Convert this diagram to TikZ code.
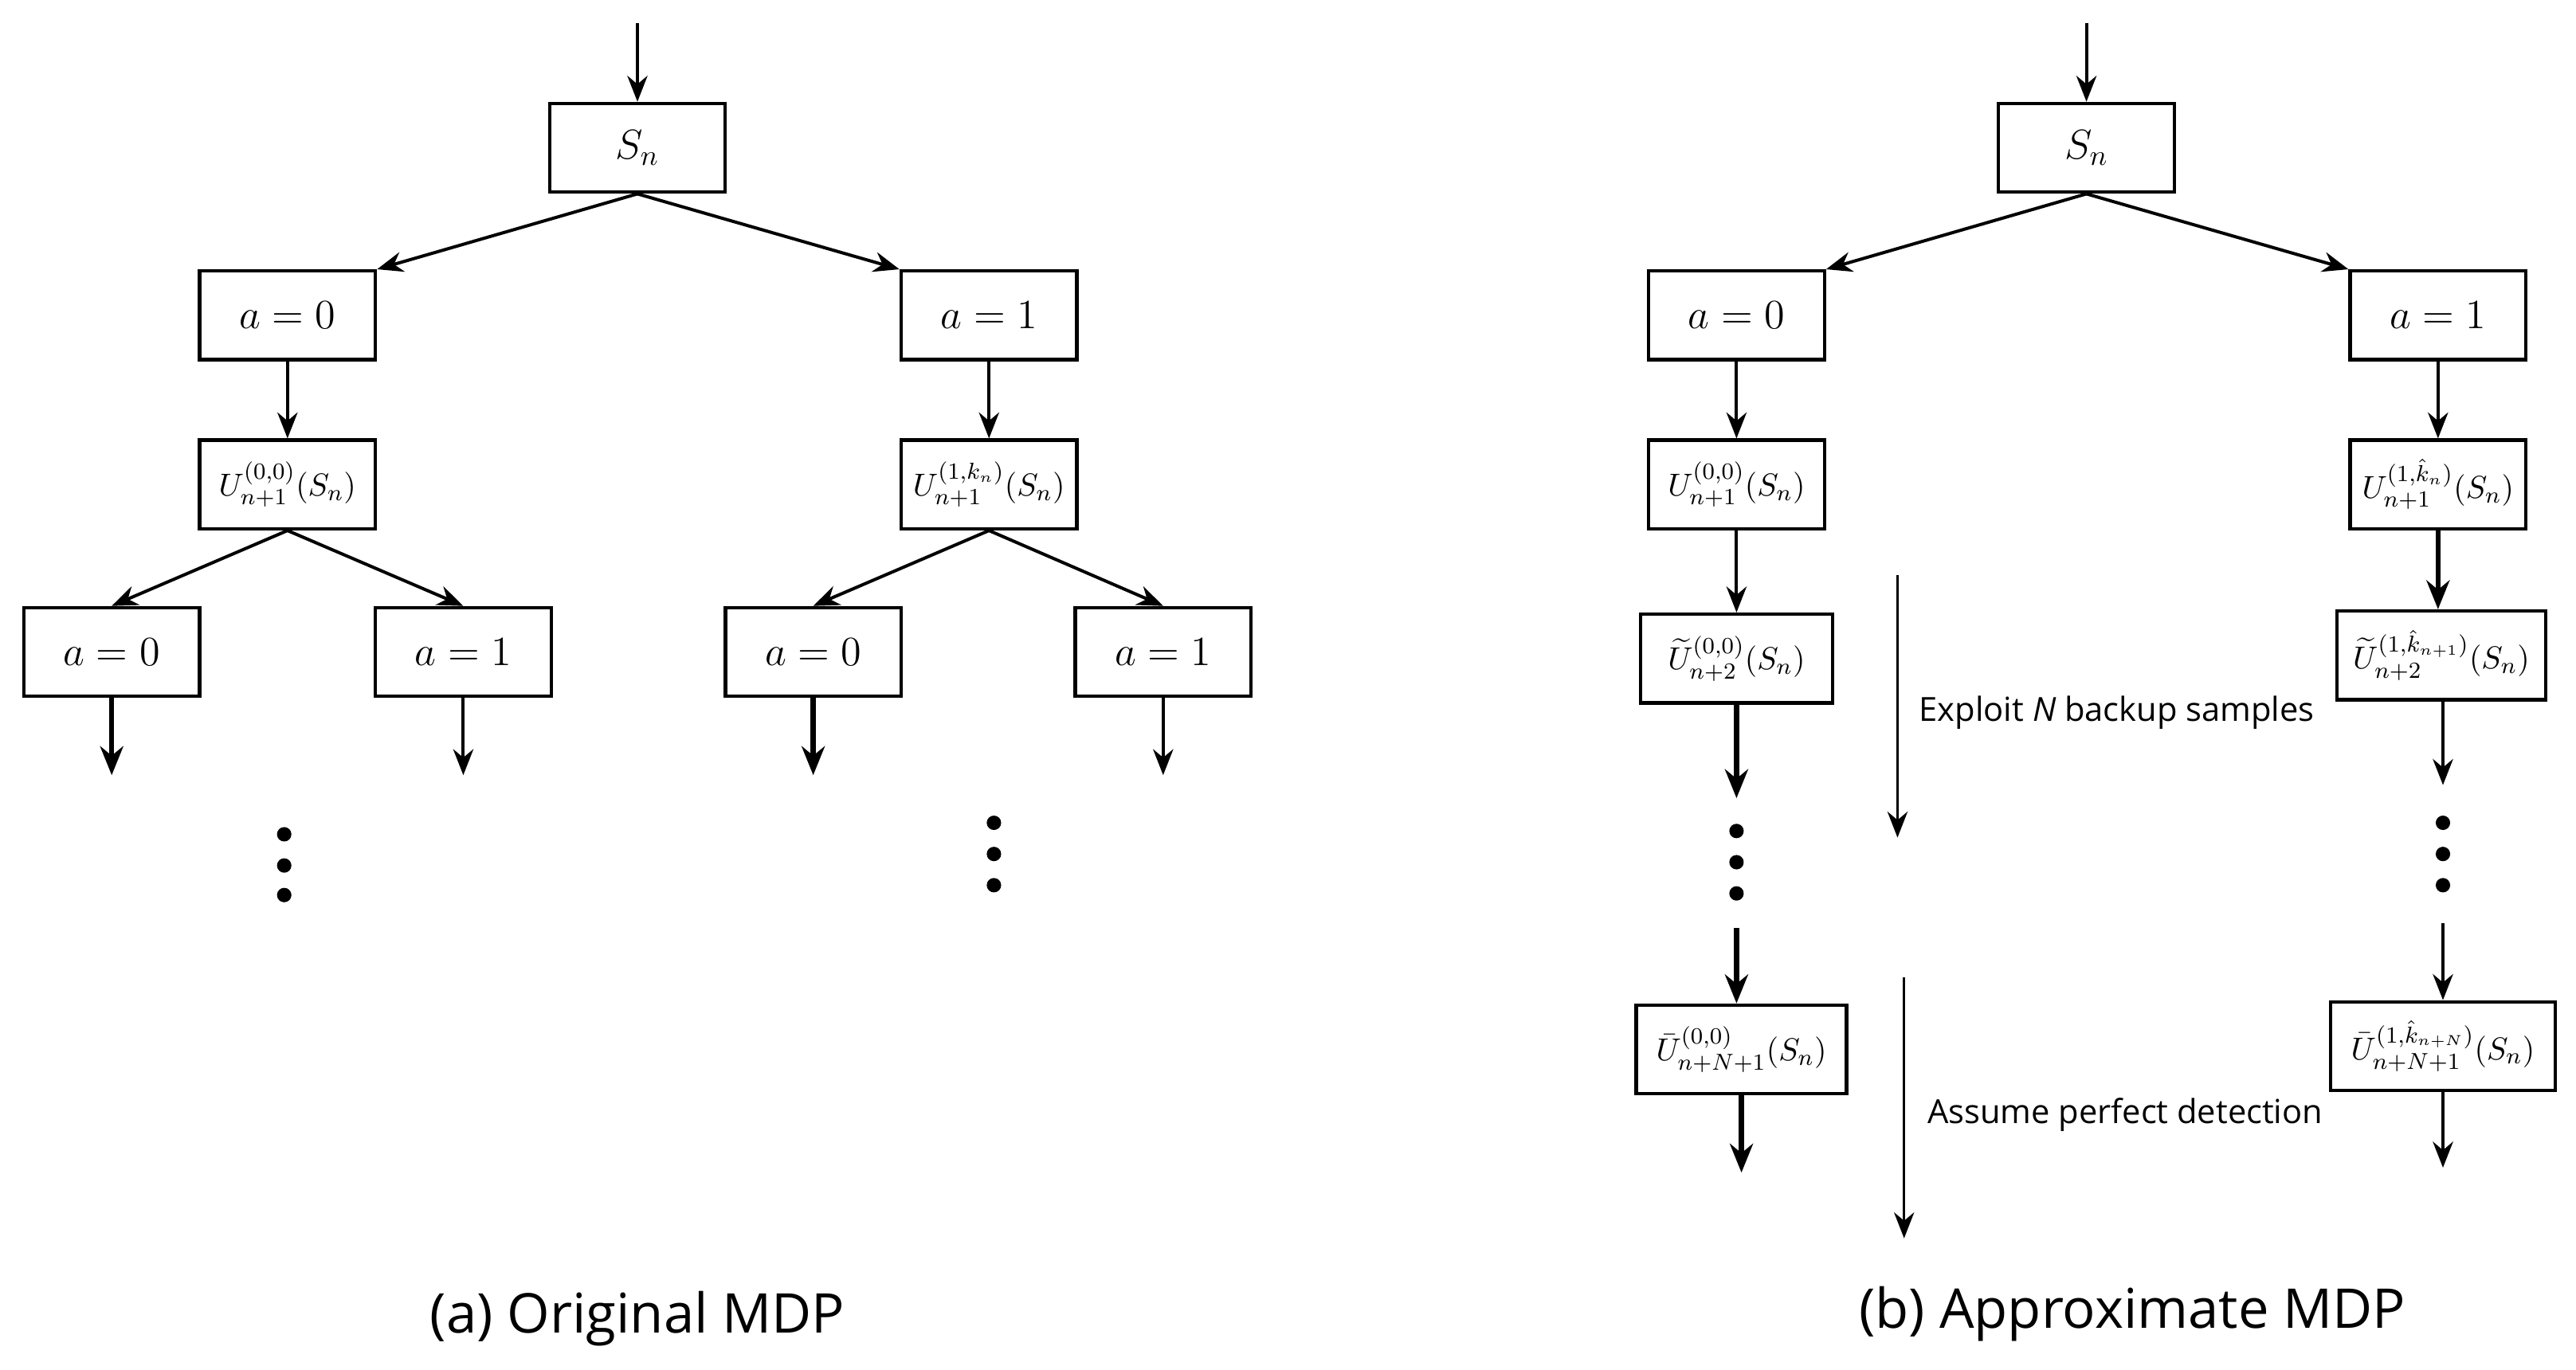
\documentclass[tikz,border=0pt]{standalone}
\usepackage{amsmath}
\usepackage{fontspec}
\newfontfamily\capfont{Open Sans}
\usetikzlibrary{arrows.meta}
\tikzset{
  box/.style={draw, line width=1.2pt, rectangle, inner sep=0pt, minimum width=2.14cm, minimum height=1.08cm, font=\fontsize{14}{17}\selectfont},
  ubox/.style={box, font=\fontsize{11}{13}\selectfont},
  arr/.style={-{Stealth[length=9pt,width=7pt]}, line width=1.1pt},
  tarr/.style={-{Stealth[length=10pt,width=8pt]}, line width=1.8pt},
  larr/.style={-{Stealth[length=9pt,width=7pt]}, line width=0.8pt},
  dot/.style={circle, fill, inner sep=0pt, minimum size=5pt},
  lbl/.style={font=\capfont\fontsize{11.5}{14}\selectfont},
  caption/.style={font=\capfont\fontsize{19}{23}\selectfont}
}
\begin{document}
\begin{tikzpicture}[x=0.02cm, y=-0.02cm]
    \useasboundingbox (0,0) rectangle (1568,834);

    % Left tree: original MDP
    \coordinate (ltop) at (388,14);
    \node[box] (ls) at (388,90) {$S_n$};
    \node[box] (la0) at (175,192) {$a=0$};
    \node[box] (la1) at (602,192) {$a=1$};
    \node[ubox] (lu0) at (175,295) {$U_{n+1}^{(0,0)}(S_n)$};
    \node[ubox] (lu1) at (602,295) {$U_{n+1}^{(1,k_n)}(S_n)$};
    \node[box] (lb1) at (68,397) {$a=0$};
    \node[box] (lb2) at (282,397) {$a=1$};
    \node[box] (lb3) at (495,397) {$a=0$};
    \node[box] (lb4) at (708,397) {$a=1$};
    \coordinate (le1) at (68,472);
    \coordinate (le2) at (282,472);
    \coordinate (le3) at (495,472);
    \coordinate (le4) at (708,472);

    \draw[arr] (ltop) -- (ls);
    \draw[arr] (ls.south) -- (la0.north east);
    \draw[arr] (ls.south) -- (la1.north west);
    \draw[arr] (la0) -- (lu0);
    \draw[arr] (la1) -- (lu1);
    \draw[arr] (lu0.south) -- (lb1.north);
    \draw[arr] (lu0.south) -- (lb2.north);
    \draw[arr] (lu1.south) -- (lb3.north);
    \draw[arr] (lu1.south) -- (lb4.north);
    \draw[tarr] (lb1) -- (le1);
    \draw[arr] (lb2) -- (le2);
    \draw[tarr] (lb3) -- (le3);
    \draw[arr] (lb4) -- (le4);

    % Dots
    \foreach \y in {508,527,545} \node[dot] at (173,\y) {};
    \foreach \y in {501,520,539} \node[dot] at (605,\y) {};

    \node[caption] (capa) at (388,803) {(a) Original MDP};

    % Right tree: approximate MDP
    \coordinate (rtop) at (1270,14);
    \node[box] (rs) at (1270,90) {$S_n$};
    \node[box] (ra0) at (1057,192) {$a=0$};
    \node[box] (ra1) at (1484,192) {$a=1$};
    \node[ubox] (ru0) at (1057,295) {$U_{n+1}^{(0,0)}(S_n)$};
    \node[ubox] (ru1) at (1484,295) {$U_{n+1}^{(1,\hat{k}_n)}(S_n)$};
    \node[ubox, minimum width=2.34cm] (rt0) at (1057,401) {$\widetilde{U}_{n+2}^{(0,0)}(S_n)$};
    \node[ubox, minimum width=2.54cm] (rt1) at (1486,399) {$\widetilde{U}_{n+2}^{(1,\hat{k}_{n+1})}(S_n)$};
    \node[ubox, minimum width=2.56cm] (rb0) at (1060,639) {$\bar{U}_{n+N+1}^{(0,0)}(S_n)$};
    \node[ubox, minimum width=2.74cm] (rb1) at (1487,637) {$\bar{U}_{n+N+1}^{(1,\hat{k}_{n+N})}(S_n)$};
    \coordinate (rd0) at (1057,486);
    \coordinate (rc0) at (1057,565);
    \coordinate (rd1) at (1487,478);
    \coordinate (rc1) at (1487,562);
    \coordinate (re0) at (1060,714);
    \coordinate (re1) at (1487,711);

    \draw[arr] (rtop) -- (rs);
    \draw[arr] (rs.south) -- (ra0.north east);
    \draw[arr] (rs.south) -- (ra1.north west);
    \draw[arr] (ra0) -- (ru0);
    \draw[arr] (ra1) -- (ru1);
    \draw[arr] (ru0) -- (rt0);
    \draw[tarr] (ru1) -- (ru1 |- rt1.north);
    \draw[tarr] (rt0) -- (rd0);
    \draw[arr] (rt1.south -| rd1) -- (rd1);
    \draw[tarr] (rc0) -- (rc0 |- rb0.north);
    \draw[arr] (rc1) -- (rb1);
    \draw[tarr] (rb0) -- (re0);
    \draw[arr] (rb1) -- (re1);

    % Dots
    \foreach \y in {506,525,544} \node[dot] at (1057,\y) {};
    \foreach \y in {501,520,539} \node[dot] at (1487,\y) {};

    % Side notes
    \coordinate (n1a) at (1155,350);
    \coordinate (n1b) at (1155,510);
    \coordinate (n2a) at (1159,595);
    \coordinate (n2b) at (1159,754);
    \draw[larr] (n1a) -- (n1b);
    \draw[larr] (n2a) -- (n2b);
    \node[lbl, anchor=west] (t1) at (1162,434) {Exploit \textit{N} backup samples};
    \node[lbl, anchor=west] (t2) at (1167,679) {Assume perfect detection};

    \node[caption] (capb) at (1298,800) {(b) Approximate MDP};
\end{tikzpicture}
\end{document}
